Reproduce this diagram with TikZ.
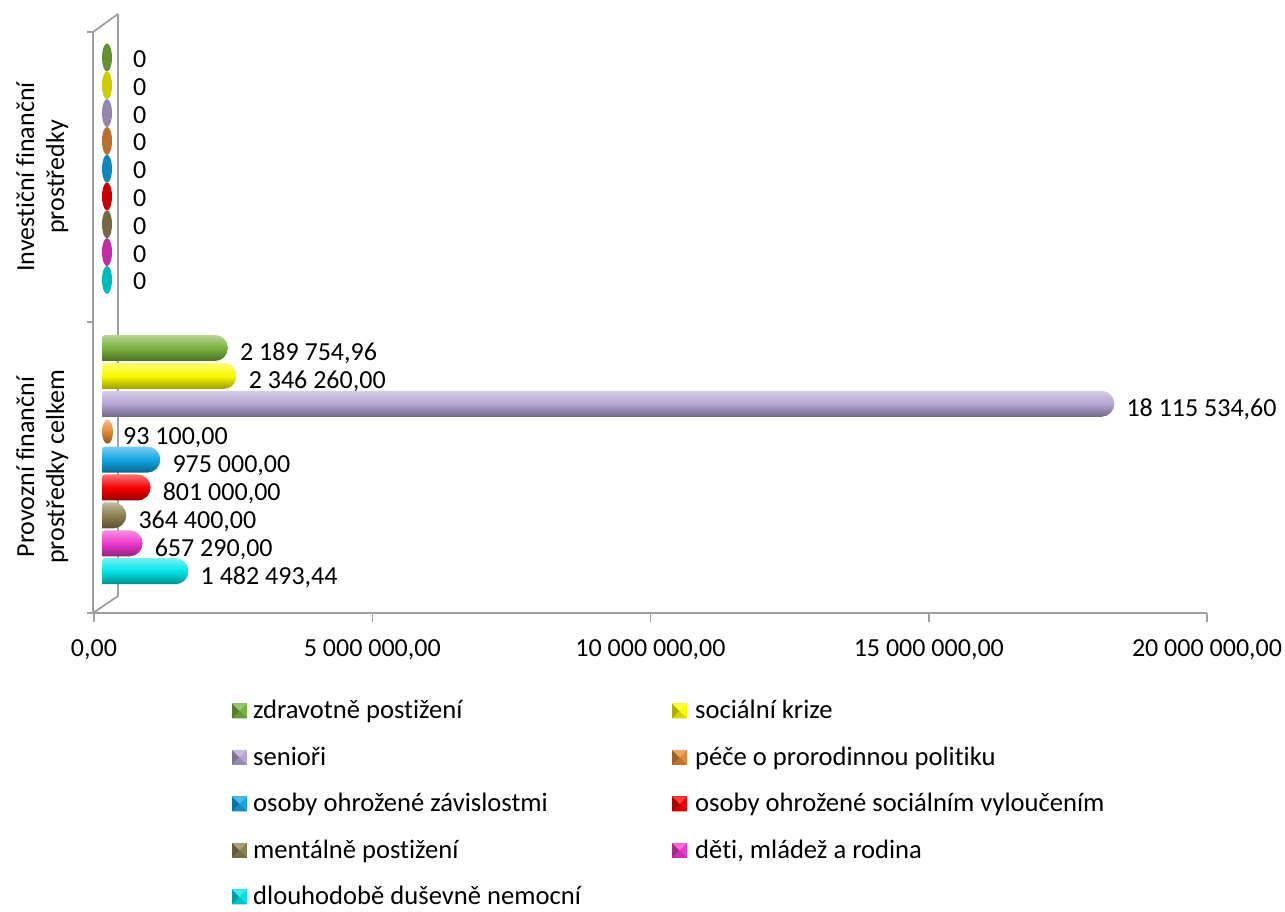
\documentclass[tikz,border=0pt]{standalone}
\usepackage{fontspec}
\setmainfont{Carlito}[Ligatures=NoCommon]
\definecolor{cgreen}{RGB}{122,178,62}
\definecolor{cyellow}{RGB}{250,250,0}
\definecolor{cpurple}{RGB}{180,165,212}
\definecolor{corange}{RGB}{228,135,55}
\definecolor{cblue}{RGB}{18,165,228}
\definecolor{cred}{RGB}{245,0,0}
\definecolor{colive}{RGB}{140,128,80}
\definecolor{cmagenta}{RGB}{238,55,205}
\definecolor{ccyan}{RGB}{0,228,232}
\definecolor{wallgray}{RGB}{160,160,160}
\begin{document}
\begin{tikzpicture}[x=1pt,y=1pt,
  txt/.style={font=\fontsize{26}{31}\selectfont, inner sep=0pt, text=black},
  lbl/.style={txt, anchor=base west},
  leglbl/.style={lbl, font=\fontsize{26.6}{31}\selectfont},
  ticklbl/.style={txt, anchor=base},
  catlbl/.style={txt, anchor=base, rotate=90},
  wall/.style={draw=wallgray, line width=1.8pt},
  axisline/.style={draw=wallgray, line width=1.6pt},
  barshade/.style={top color=#1!55!white, bottom color=#1!62!black, middle color=#1},
]
\useasboundingbox[fill=white] (0,0) rectangle (1285,912);

% --- walls / axes
\coordinate (wfT) at (93,880);
\coordinate (wfB) at (93,299);
\coordinate (wbT) at (118,898);
\coordinate (wbB) at (118,316);
\draw[wall] (wfT) -- (wfB);
\draw[wall] (wbT) -- (wbB);
\draw[wall] (wfT) -- (wbT);
\draw[wall] (wfB) -- (wbB);
\coordinate (axL) at (87,299);
\coordinate (axR) at (1207,299);
\draw[axisline] (axL) -- (axR);
\draw[axisline] (87,880) -- (wfT);
\draw[axisline] (87,590) -- (93,590);

% --- x ticks and labels
\foreach \x/\t [count=\i] in {94/{0,00},372.3/{5 000 000,00},650.5/{10 000 000,00},928.8/{15 000 000,00},1207/{20 000 000,00}}{
  \draw[axisline] (\x,299) -- (\x,290);
  \node[ticklbl] (tick\i) at (\x,255) {\t};
}

% --- category labels
\node[catlbl] (catA1) at (34,735) {Investiční finanční};
\node[catlbl] (catA2) at (64,735) {prostředky};
\node[catlbl] (catB1) at (34,445) {Provozní finanční};
\node[catlbl] (catB2) at (64,445) {prostředky celkem};

% --- investment group: zero-height ellipses
\foreach \col [count=\i from 0] in {cgreen,cyellow,cpurple,corange,cblue,cred,colive,cmagenta,ccyan}{
  \pgfmathsetmacro\yc{912-57.5-27.8*\i}
  \pgfmathsetmacro\yl{\yc-10}
  \fill[\col!82!black] (107,\yc) ellipse[x radius=5, y radius=14];
  \node[lbl] (zero\i) at (133,\yl) {0};
}

% --- operating group: bars
\foreach \c/\e/\col/\t [count=\i] in {
  348/227.9/cgreen/{2 189 754,96},
  375.9/236.6/cyellow/{2 346 260,00},
  403.8/1114.3/cpurple/{18 115 534,60},
  459.6/160.3/cblue/{975 000,00},
  487.5/150.6/cred/{801 000,00},
  515.4/126.3/colive/{364 400,00},
  543.3/142.6/cmagenta/{657 290,00},
  571.2/188.5/ccyan/{1 482 493,44}}{
  \pgfmathsetmacro\yt{912-\c+13}
  \pgfmathsetmacro\yb{912-\c-13}
  \pgfmathsetmacro\xa{\e-13}
  \pgfmathsetmacro\yl{912-\c-13}
  \pgfmathsetmacro\xl{\e+12}
  \shade[barshade=\col] (102,\yb) [rounded corners=3pt] -- (102,\yt) [sharp corners] -- (\xa,\yt) arc[start angle=90,end angle=-90,radius=13] -- cycle;
  \node[lbl] (val\i) at (\xl,\yl) {\t};
}
% orange: tiny value, only the cap is visible
\shade[barshade=corange] (107.5,480.3) ellipse[x radius=5.5, y radius=12];
\node[lbl] (valO) at (123,467) {93 100,00};

% --- legend
\newcommand\legmark[3]{% x, row-y (image), colour
  \pgfmathsetmacro\mb{912-#2-7.5}
  \pgfmathsetmacro\mt{912-#2+7.5}
  \pgfmathsetmacro\mc{912-#2}
  \pgfmathsetmacro\mr{#1+15}
  \pgfmathsetmacro\mx{#1+7.5}
  \fill[#3] (#1,\mb) rectangle (\mr,\mt);
  \fill[#3!70!black] (#1,\mb) -- (#1,\mt) -- (\mx,\mc) -- cycle;
  \fill[#3!85!black] (#1,\mb) -- (\mr,\mb) -- (\mx,\mc) -- cycle;
  \fill[#3!75!white] (#1,\mt) -- (\mr,\mt) -- (\mx,\mc) -- cycle;
}
\foreach \r/\col/\t [count=\i] in {711/cgreen/{zdravotně postižení},757.5/cpurple/{senioři},804/cblue/{osoby ohrožené závislostmi},850.5/colive/{mentálně postižení},897/ccyan/{dlouhodobě duševně nemocní}}{
  \legmark{232}{\r}{\col}
  \pgfmathsetmacro\yb{912-\r-8}
  \node[leglbl] (legL\i) at (253,\yb) {\t};
}
\foreach \r/\col/\t [count=\i] in {711/cyellow/{sociální krize},757.5/corange/{péče o prorodinnou politiku},804/cred/{osoby ohrožené sociálním vyloučením},850.5/cmagenta/{děti, mládež a rodina}}{
  \legmark{672}{\r}{\col}
  \pgfmathsetmacro\yb{912-\r-8}
  \node[leglbl] (legR\i) at (695,\yb) {\t};
}
\end{tikzpicture}
\end{document}
